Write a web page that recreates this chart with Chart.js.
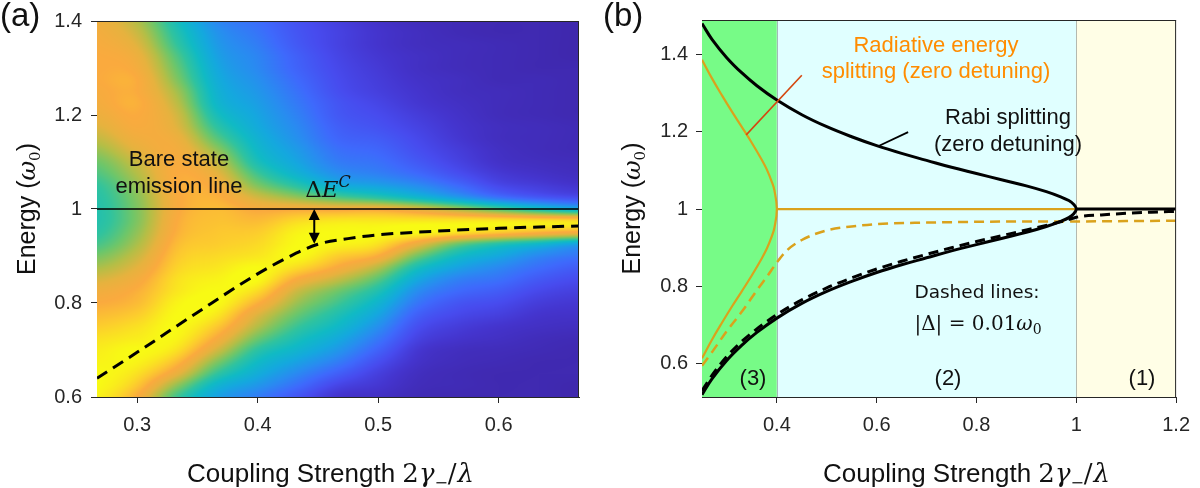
<!DOCTYPE html>
<html><head><meta charset="utf-8">
<script src="https://cdn.jsdelivr.net/npm/chart.js@4.4.1/dist/chart.umd.min.js"></script>
<style>
html,body{margin:0;padding:0;background:#fff;}
body{width:1200px;height:488px;overflow:hidden;position:relative;}
.w{position:absolute;top:0;width:600px;height:488px;}
#wa{left:0;} #wb{left:600px;}
</style></head><body>
<div class="w" id="wa"><canvas id="ca"></canvas></div>
<div class="w" id="wb"><canvas id="cb"></canvas></div>
<script>
// ---------------- DATA ----------------
// Panel (a): axes
const xRangeA = [0.2667, 0.6667];
const yRangeA = [0.6, 1.4];
const xTicksA = [0.3, 0.4, 0.5, 0.6];
const xTickLabelsA = ['0.3', '0.4', '0.5', '0.6'];
const yTicksA = [0.6, 0.8, 1.0, 1.2, 1.4];
const yTickLabelsA = ['0.6', '0.8', '1', '1.2', '1.4'];

// Panel (a): spectrum map (normalised intensity) sampled on a grid
const heatX = [0.2667, 0.3, 0.3333, 0.3667, 0.4, 0.4333, 0.4667, 0.5, 0.5333, 0.5667, 0.6, 0.6333, 0.6667];
const heatE = [1.4, 1.375, 1.35, 1.325, 1.3, 1.275, 1.25, 1.225, 1.2, 1.175, 1.15, 1.125, 1.1, 1.075, 1.05, 1.025, 1.0,
               0.975, 0.95, 0.925, 0.9, 0.875, 0.85, 0.825, 0.8, 0.775, 0.75, 0.725, 0.7, 0.675, 0.65, 0.625, 0.6];
// one column per heatX value, entries follow heatE
const spectrumColumns = [
 [0.84,0.85,0.86,0.87,0.87,0.87,0.86,0.85,0.83,0.80,0.76,0.71,0.66,0.62,0.58,0.56,0.55,0.55,0.57,0.61,0.67,0.73,0.79,0.84,0.87,0.90,0.93,0.96,0.98,0.99,1.00,1.00,0.99],
 [0.74,0.77,0.80,0.83,0.85,0.87,0.87,0.88,0.87,0.86,0.84,0.81,0.77,0.74,0.71,0.69,0.68,0.68,0.70,0.73,0.77,0.81,0.85,0.88,0.90,0.93,0.96,0.98,1.00,0.99,0.96,0.92,0.87],
 [0.52,0.55,0.58,0.62,0.65,0.68,0.72,0.75,0.78,0.80,0.83,0.85,0.86,0.87,0.87,0.86,0.86,0.87,0.88,0.90,0.92,0.94,0.96,0.97,0.99,1.00,1.00,0.99,0.96,0.90,0.82,0.70,0.60],
 [0.33,0.36,0.38,0.40,0.42,0.44,0.46,0.48,0.52,0.57,0.63,0.70,0.76,0.81,0.85,0.88,0.90,0.91,0.92,0.93,0.95,0.97,0.99,1.00,1.00,0.97,0.92,0.86,0.78,0.68,0.58,0.47,0.40],
 [0.26,0.28,0.30,0.32,0.33,0.35,0.37,0.39,0.41,0.43,0.46,0.49,0.53,0.60,0.68,0.78,0.86,0.90,0.93,0.95,0.97,1.00,1.00,0.95,0.88,0.80,0.74,0.66,0.57,0.50,0.44,0.37,0.30],
 [0.18,0.19,0.20,0.22,0.23,0.25,0.27,0.29,0.31,0.33,0.35,0.38,0.41,0.46,0.56,0.70,0.86,0.95,0.99,1.00,1.00,0.95,0.86,0.77,0.71,0.65,0.59,0.53,0.47,0.40,0.33,0.26,0.19],
 [0.12,0.13,0.13,0.14,0.15,0.16,0.17,0.19,0.20,0.22,0.24,0.27,0.30,0.35,0.44,0.62,0.85,0.97,1.00,0.99,0.93,0.86,0.76,0.66,0.60,0.54,0.49,0.43,0.37,0.30,0.22,0.14,0.08],
 [0.07,0.08,0.08,0.09,0.10,0.11,0.12,0.14,0.16,0.18,0.21,0.24,0.27,0.31,0.40,0.56,0.85,0.97,1.00,0.96,0.87,0.74,0.63,0.54,0.47,0.41,0.35,0.29,0.23,0.17,0.12,0.09,0.06],
 [0.04,0.05,0.05,0.06,0.06,0.07,0.08,0.09,0.11,0.13,0.15,0.17,0.20,0.25,0.34,0.48,0.80,0.97,1.00,0.82,0.66,0.52,0.42,0.34,0.28,0.22,0.17,0.13,0.09,0.07,0.05,0.04,0.03],
 [0.03,0.03,0.04,0.04,0.04,0.05,0.05,0.06,0.07,0.08,0.09,0.11,0.13,0.17,0.25,0.38,0.72,0.97,0.96,0.65,0.50,0.40,0.31,0.25,0.19,0.15,0.11,0.08,0.05,0.04,0.03,0.03,0.02],
 [0.02,0.02,0.03,0.03,0.03,0.03,0.04,0.04,0.04,0.05,0.05,0.06,0.07,0.10,0.15,0.27,0.62,0.97,0.92,0.55,0.42,0.33,0.27,0.21,0.16,0.12,0.08,0.06,0.04,0.03,0.02,0.02,0.02],
 [0.02,0.02,0.02,0.02,0.02,0.03,0.03,0.03,0.03,0.04,0.04,0.04,0.05,0.07,0.11,0.20,0.52,0.96,0.88,0.48,0.33,0.26,0.20,0.15,0.11,0.08,0.06,0.04,0.03,0.02,0.02,0.02,0.02],
 [0.01,0.01,0.01,0.01,0.02,0.02,0.02,0.02,0.02,0.03,0.03,0.03,0.04,0.05,0.08,0.16,0.44,0.95,0.85,0.40,0.28,0.21,0.16,0.12,0.09,0.07,0.05,0.03,0.02,0.02,0.02,0.01,0.01]
];
// Panel (a): emission peak (dashed) and bare state line
const peakX = [0.2667, 0.3, 0.35, 0.4, 0.425, 0.45, 0.475, 0.5, 0.55, 0.6, 0.6667];
const peakE = [0.64, 0.695, 0.78, 0.862, 0.897, 0.925, 0.937, 0.945, 0.953, 0.959, 0.964];
const bareX = [0.2667, 0.6667];
const bareE = [1.0, 1.0];
const arrowX = 0.447;
const arrowE = [1.0, 0.926];

// Panel (b): axes
const xRangeB = [0.25, 1.2];
const yRangeB = [0.514, 1.489];
const xTicksB = [0.4, 0.6, 0.8, 1.0, 1.2];
const xTickLabelsB = ['0.4', '0.6', '0.8', '1', '1.2'];
const yTicksB = [0.6, 0.8, 1.0, 1.2, 1.4];
const yTickLabelsB = ['0.6', '0.8', '1', '1.2', '1.4'];
const regionEdges = [0.25, 0.4, 1.0, 1.2];
const regionNames = ['(3)', '(2)', '(1)'];

// Panel (b): Rabi splitting (zero detuning), upper and lower branches
const rabiX = [0.25,0.27,0.3,0.33,0.36,0.4,0.45,0.5,0.55,0.6,0.65,0.7,0.75,0.8,0.85,0.9,0.94,0.97,0.985,0.995,1.0];
const rabiUpper = [1.48,1.439,1.391,1.352,1.319,1.282,1.244,1.213,1.187,1.164,1.144,1.126,1.108,1.092,1.076,1.06,1.045,1.031,1.022,1.012,1.0];
const rabiLower = [0.52,0.561,0.609,0.648,0.681,0.718,0.756,0.787,0.813,0.836,0.856,0.874,0.892,0.908,0.924,0.94,0.955,0.969,0.978,0.988,1.0];
const weakX = [1.0, 1.2];
const weakE = [1.0, 1.0];
// Panel (b): radiative energy splitting (zero detuning)
const radX = [0.25,0.27,0.29,0.31,0.33,0.35,0.37,0.38,0.39,0.395,0.4];
const radUpper = [1.386,1.338,1.294,1.252,1.212,1.171,1.127,1.102,1.07,1.049,1.0];
const radLower = [0.614,0.662,0.706,0.748,0.788,0.829,0.873,0.898,0.93,0.951,1.0];
const radFlatX = [0.4, 1.0];
const radFlatE = [1.0, 1.0];
// Panel (b): detuned |Δ| = 0.01 ω0 (dashed)
const radDetX = [0.25,0.27,0.3,0.33,0.36,0.38,0.4,0.42,0.45,0.5,0.55,0.6,0.7,0.8,0.9,1.0,1.1,1.2];
const radDetE = [0.595,0.63,0.685,0.735,0.79,0.825,0.862,0.893,0.92,0.945,0.955,0.961,0.965,0.967,0.968,0.968,0.969,0.97];
const rabiDetX = [0.25,0.27,0.3,0.33,0.36,0.4,0.45,0.5,0.55,0.6,0.65,0.7,0.75,0.8,0.85,0.9,0.95,0.98,1.0,1.05,1.1,1.15,1.2];
const rabiDetE = [0.53,0.57,0.619,0.658,0.69,0.727,0.765,0.796,0.822,0.845,0.865,0.883,0.9,0.916,0.931,0.946,0.961,0.971,0.979,0.985,0.989,0.992,0.994];
// Panel (b): label pointer lines
const pointerRadX = [0.3386, 0.45];
const pointerRadE = [1.192, 1.346];
const pointerRabiX = [0.604, 0.663];
const pointerRabiE = [1.163, 1.199];

// ---------------- STYLE ----------------
const SANS = '"Liberation Sans", Arial, Helvetica, sans-serif';
const SERIF = '"DejaVu Serif", "Liberation Serif", serif';
const DSANS = '"DejaVu Sans", sans-serif';
const AXC = '#262626';
const TXT = '#111111';
const ORANGE = '#daa21c';
const regionColors = ['#77fb87', '#e0ffff', '#fffee6'];
const cmapStops = [
 [0.00, 62, 38, 168],
 [0.08, 68, 52, 205],
 [0.16, 71, 75, 238],
 [0.25, 62, 105, 252],
 [0.34, 40, 140, 240],
 [0.42, 20, 168, 222],
 [0.50, 16, 186, 196],
 [0.58, 48, 195, 158],
 [0.66, 110, 198, 105],
 [0.74, 180, 190, 70],
 [0.81, 230, 178, 62],
 [0.87, 250, 170, 62],
 [0.93, 252, 205, 45],
 [1.00, 248, 250, 20]
];

function cmapColor(v){
  v = Math.max(0, Math.min(1, v));
  for (let i = 0; i < cmapStops.length - 1; i++){
    const a = cmapStops[i], b = cmapStops[i+1];
    if (v <= b[0]){
      const t = (v - a[0]) / (b[0] - a[0]);
      return [a[1]+(b[1]-a[1])*t, a[2]+(b[2]-a[2])*t, a[3]+(b[3]-a[3])*t];
    }
  }
  const l = cmapStops[cmapStops.length-1]; return [l[1], l[2], l[3]];
}
function locate(arr, v){
  const n = arr.length, asc = arr[n-1] > arr[0];
  for (let i = 0; i < n-1; i++){
    const a = arr[i], b = arr[i+1];
    if ((asc && v >= a && v <= b) || (!asc && v <= a && v >= b)) return [i, (v-a)/(b-a)];
  }
  if (asc ? v < arr[0] : v > arr[0]) return [0, 0];
  return [n-2, 1];
}
function pts(xs, ys){ return xs.map((x, i) => ({x: x, y: ys[i]})); }
function arcPts(xs, up, lo){
  const out = pts(xs, up);
  for (let i = xs.length - 2; i >= 0; i--) out.push({x: xs[i], y: lo[i]});
  return out;
}
function cr(p0, p1, p2, p3, t){
  return p1 + 0.5*t*(p2 - p0 + t*(2*p0 - 5*p1 + 4*p2 - p3 + t*(3*(p1 - p2) + p3 - p0)));
}
function cell(c, r){
  c = Math.max(0, Math.min(spectrumColumns.length - 1, c));
  r = Math.max(0, Math.min(heatE.length - 1, r));
  return spectrumColumns[c][r];
}

function drawRich(ctx, parts, x, y, align, color){
  let w = 0;
  parts.forEach(p => { ctx.font = p.f; p.w = ctx.measureText(p.t).width + (p.sp || 0); w += p.w; });
  let cx = align === 'center' ? x - w/2 : (align === 'right' ? x - w : x);
  ctx.textAlign = 'left'; ctx.textBaseline = 'alphabetic';
  parts.forEach(p => { ctx.font = p.f; ctx.fillStyle = p.c || color || TXT; ctx.fillText(p.t, cx, y + (p.dy || 0)); cx += p.w; });
}
function xTitleParts(){
  return [
    {t: 'Coupling Strength ', f: '26px ' + SANS},
    {t: '2', f: '26px ' + SERIF},
    {t: 'γ', f: 'italic 26px ' + SERIF},
    {t: '−', f: '16px ' + SERIF, dy: 6},
    {t: '/', f: '26px ' + SERIF, sp: 1},
    {t: 'λ', f: 'italic 26px ' + SERIF}
  ];
}
function yTitleParts(){
  return [
    {t: 'Energy (', f: '25px ' + SANS},
    {t: 'ω', f: 'italic 24px ' + SERIF},
    {t: '0', f: '15px ' + SERIF, dy: 5},
    {t: ')', f: '25px ' + SANS}
  ];
}
function drawAxisTitles(chart, xTitleLeft){
  const ctx = chart.ctx, a = chart.chartArea;
  drawRich(ctx, xTitleParts(), a.left + xTitleLeft, 482, 'left');
  ctx.save();
  ctx.translate(a.left - 62, (a.top + a.bottom) / 2);
  ctx.rotate(-Math.PI / 2);
  drawRich(ctx, yTitleParts(), 0, 0, 'center');
  ctx.restore();
}
function drawBox(chart){
  const ctx = chart.ctx, a = chart.chartArea;
  ctx.save(); ctx.strokeStyle = AXC; ctx.lineWidth = 1;
  ctx.beginPath();
  ctx.moveTo(a.left, a.top + 0.5); ctx.lineTo(a.right, a.top + 0.5);
  ctx.moveTo(a.right - 0.5, a.top); ctx.lineTo(a.right - 0.5, a.bottom);
  ctx.stroke(); ctx.restore();
}

function axis(range, ticks, labels, isX, size, pad){
  return {
    type: 'linear', min: range[0], max: range[1],
    afterBuildTicks: s => { s.ticks = ticks.map(v => ({value: v})); },
    afterFit: s => { if (isX) s.height = size; else s.width = size; },
    ticks: {callback: (v, i) => labels[i], font: {family: SANS, size: 20}, color: AXC,
            padding: pad, autoSkip: false, maxRotation: 0, minRotation: 0},
    grid: {drawOnChartArea: false, drawTicks: true, tickLength: 6, color: AXC, tickColor: AXC, tickWidth: 1},
    border: {display: true, color: AXC, width: 1}
  };
}
function lineDs(data, color, width, dash, mode){
  return {data: data, showLine: true, borderColor: color, backgroundColor: color, borderWidth: width,
          borderDash: dash || [], pointRadius: 0, pointHoverRadius: 0, fill: false,
          tension: mode === 'spline' ? 0.4 : 0,
          cubicInterpolationMode: mode === 'monotone' ? 'monotone' : 'default', borderCapStyle: 'butt'};
}

// ---------------- PANEL (a) ----------------
const heatPlugin = {
  id: 'heat',
  beforeDatasetsDraw(chart){
    const ctx = chart.ctx, a = chart.chartArea, xs = chart.scales.x, ys = chart.scales.y;
    const L = Math.round(a.left), T = Math.round(a.top);
    const W = Math.round(a.right) - L, H = Math.round(a.bottom) - T;
    const img = ctx.createImageData(W, H);
    const colIdx = [];
    for (let i = 0; i < W; i++) colIdx.push(locate(heatX, xs.getValueForPixel(L + i + 0.5)));
    for (let j = 0; j < H; j++){
      const rr = locate(heatE, ys.getValueForPixel(T + j + 0.5));
      const r = rr[0], tr = rr[1];
      for (let i = 0; i < W; i++){
        const c = colIdx[i][0], tc = colIdx[i][1];
        const col4 = [];
        for (let m = -1; m <= 2; m++){
          col4.push(cr(cell(c+m, r-1), cell(c+m, r), cell(c+m, r+1), cell(c+m, r+2), tr));
        }
        const v = cr(col4[0], col4[1], col4[2], col4[3], tc);
        const col = cmapColor(v);
        const k = (j*W + i)*4;
        img.data[k] = col[0]; img.data[k+1] = col[1]; img.data[k+2] = col[2]; img.data[k+3] = 255;
      }
    }
    const off = document.createElement('canvas'); off.width = W; off.height = H;
    off.getContext('2d').putImageData(img, 0, 0);
    ctx.drawImage(off, L, T);
  }
};
const annotA = {
  id: 'annotA',
  afterDatasetsDraw(chart){
    const ctx = chart.ctx, xs = chart.scales.x, ys = chart.scales.y;
    const ax = xs.getPixelForValue(arrowX), y1 = ys.getPixelForValue(arrowE[0]), y2 = ys.getPixelForValue(arrowE[1]);
    const hl = 11, hw = 5.5;
    ctx.save();
    ctx.strokeStyle = '#000'; ctx.fillStyle = '#000'; ctx.lineWidth = 2;
    ctx.beginPath(); ctx.moveTo(ax, y1 + hl - 1); ctx.lineTo(ax, y2 - hl + 1); ctx.stroke();
    ctx.beginPath(); ctx.moveTo(ax, y1); ctx.lineTo(ax - hw, y1 + hl); ctx.lineTo(ax + hw, y1 + hl); ctx.closePath(); ctx.fill();
    ctx.beginPath(); ctx.moveTo(ax, y2); ctx.lineTo(ax - hw, y2 - hl); ctx.lineTo(ax + hw, y2 - hl); ctx.closePath(); ctx.fill();
    ctx.restore();
  },
  afterDraw(chart){
    const ctx = chart.ctx;
    drawBox(chart);
    ctx.save();
    drawRich(ctx, [{t: 'Bare state', f: '22px ' + SANS}], 179, 166, 'center');
    drawRich(ctx, [{t: 'emission line', f: '22px ' + SANS}], 179, 193, 'center');
    drawRich(ctx, [{t: 'Δ', f: '23px ' + SERIF}, {t: 'E', f: 'italic 23px ' + SERIF}, {t: 'C', f: 'italic 16px ' + SERIF, dy: -10}], 328, 197, 'center');
    drawRich(ctx, [{t: '(a)', f: '33px ' + SANS}], 0, 26, 'left');
    drawAxisTitles(chart, 90);
    ctx.restore();
  }
};

new Chart(document.getElementById('ca'), {
  type: 'scatter',
  data: {datasets: [
    lineDs(pts(peakX, peakE), '#000', 3, [12, 7], 'monotone'),
    lineDs(pts(bareX, bareE), '#000', 1.5, [], 'linear')
  ]},
  options: {
    responsive: true, maintainAspectRatio: false, animation: false, devicePixelRatio: 1,
    layout: {padding: {left: 0, right: 21, top: 17, bottom: 0}},
    plugins: {legend: {display: false}, tooltip: {enabled: false}},
    events: [],
    scales: {
      x: axis(xRangeA, xTicksA, xTickLabelsA, true, 91, 10),
      y: axis(yRangeA, yTicksA, yTickLabelsA, false, 97, 9)
    }
  },
  plugins: [heatPlugin, annotA]
});

// ---------------- PANEL (b) ----------------
const regionPlugin = {
  id: 'regions',
  beforeDatasetsDraw(chart){
    const ctx = chart.ctx, a = chart.chartArea, xs = chart.scales.x;
    ctx.save();
    for (let i = 0; i < regionEdges.length - 1; i++){
      const x0 = xs.getPixelForValue(regionEdges[i]), x1 = xs.getPixelForValue(regionEdges[i+1]);
      ctx.fillStyle = regionColors[i];
      ctx.fillRect(x0, a.top, x1 - x0, a.bottom - a.top);
    }
    ctx.strokeStyle = 'rgba(90,100,100,0.45)'; ctx.lineWidth = 1;
    for (let i = 1; i < regionEdges.length - 1; i++){
      const x = Math.round(xs.getPixelForValue(regionEdges[i])) + 0.5;
      ctx.beginPath(); ctx.moveTo(x, a.top); ctx.lineTo(x, a.bottom); ctx.stroke();
    }
    ctx.restore();
  }
};
const labelX = [153, 348, 542];
const annotB = {
  id: 'annotB',
  afterDraw(chart){
    const ctx = chart.ctx;
    drawBox(chart);
    ctx.save();
    drawRich(ctx, [{t: 'Radiative energy', f: '22px ' + SANS}], 336, 52, 'center', '#ff8c00');
    drawRich(ctx, [{t: 'splitting (zero detuning)', f: '22px ' + SANS}], 336, 78, 'center', '#ff8c00');
    drawRich(ctx, [{t: 'Rabi splitting', f: '22px ' + SANS}], 408, 124, 'center');
    drawRich(ctx, [{t: '(zero detuning)', f: '22px ' + SANS}], 408, 151, 'center');
    drawRich(ctx, [{t: 'Dashed lines:', f: '18.5px ' + DSANS}], 377, 298, 'center');
    drawRich(ctx, [{t: '|Δ| = 0.01', f: '20px ' + SERIF}, {t: 'ω', f: 'italic 20px ' + SERIF}, {t: '0', f: '14px ' + SERIF, dy: 4}], 378, 330, 'center');
    regionNames.forEach((n, i) => drawRich(ctx, [{t: n, f: '22px ' + SANS}], labelX[i], 385, 'center'));
    drawRich(ctx, [{t: '(b)', f: '33px ' + SANS}], 3, 26, 'left');
    drawAxisTitles(chart, 121);
    ctx.restore();
  }
};

new Chart(document.getElementById('cb'), {
  type: 'scatter',
  data: {datasets: [
    lineDs(pts(pointerRadX, pointerRadE), '#d5470f', 1.6, [], 'linear'),
    lineDs(pts(pointerRabiX, pointerRabiE), '#000', 1.8, [], 'linear'),
    lineDs(pts(rabiDetX, rabiDetE), '#000', 3, [10, 6], 'monotone'),
    lineDs(arcPts(rabiX, rabiUpper, rabiLower), '#000', 3, [], 'spline'),
    lineDs(pts(weakX, weakE), '#000', 3, [], 'linear'),
    lineDs(arcPts(radX, radUpper, radLower), ORANGE, 2.2, [], 'spline'),
    lineDs(pts(radFlatX, radFlatE), ORANGE, 2.2, [], 'linear'),
    lineDs(pts(radDetX, radDetE), ORANGE, 2.5, [10, 6], 'monotone')
  ]},
  options: {
    responsive: true, maintainAspectRatio: false, animation: false, devicePixelRatio: 1,
    layout: {padding: {left: 0, right: 16, top: 17, bottom: 0}},
    plugins: {legend: {display: false}, tooltip: {enabled: false}},
    events: [],
    scales: {
      x: axis(xRangeB, xTicksB, xTickLabelsB, true, 91, 10),
      y: axis(yRangeB, yTicksB, yTickLabelsB, false, 102, 8)
    }
  },
  plugins: [regionPlugin, annotB]
});
</script>
</body></html>
